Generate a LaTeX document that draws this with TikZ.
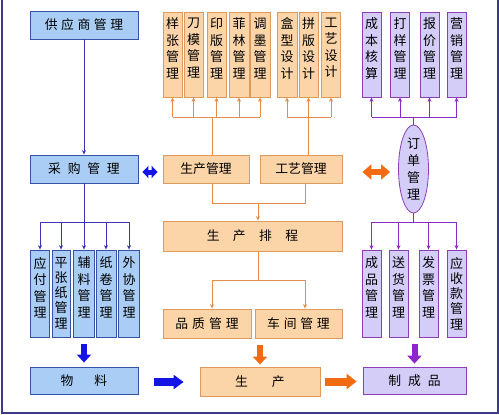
\documentclass[tikz,border=0pt]{standalone}
\usepackage{fontspec}
\setmainfont{Noto Sans CJK SC}
\usepackage{tikz}
\usetikzlibrary{arrows.meta,shapes.geometric}

\definecolor{lanfill}{HTML}{A9CDF4}
\definecolor{landraw}{HTML}{3552A8}
\definecolor{lanline}{HTML}{3B33B8}
\definecolor{lanbig}{HTML}{1414E6}
\definecolor{chengfill}{HTML}{FBD4A8}
\definecolor{chengdraw}{HTML}{DE9A5C}
\definecolor{chengline}{HTML}{E38C4C}
\definecolor{chengbig}{HTML}{F26B12}
\definecolor{zifill}{HTML}{D3CDF8}
\definecolor{zidraw}{HTML}{8A3FB8}
\definecolor{ziline}{HTML}{8A2CC2}
\definecolor{zibig}{HTML}{8E24D0}
\definecolor{kuang}{HTML}{3E3888}

% vertical text in the tall boxes
\newcommand{\shu}[2][16.5]{\parbox[c][73pt][t]{18pt}{\centering\fontsize{13}{#1}\selectfont #2}}

\begin{document}
\begin{tikzpicture}[x=1pt,y=-1pt,>={Stealth[length=4.5pt,width=4pt]},
	box/.style={draw,line width=0.8pt,inner sep=0pt,font=\fontsize{12.8}{15}\selectfont},
	lan/.style={box,draw=landraw,fill=lanfill},
	cheng/.style={box,draw=chengdraw,fill=chengfill},
	zi/.style={box,draw=zidraw,fill=zifill},
	gao/.style={minimum width=19pt,minimum height=85pt},
	gaob/.style={minimum width=19pt,minimum height=87pt},
	lanxian/.style={draw=lanline,line width=0.8pt},
	chengxian/.style={draw=chengline,line width=0.8pt},
	zixian/.style={draw=ziline,line width=0.8pt},
	dajt/.style={line width=6pt,-{Triangle[width=14pt,length=8pt]}},
	shuangjt/.style={line width=5pt,{Triangle[width=12pt,length=6pt]}-{Triangle[width=12pt,length=6pt]}}]
			\useasboundingbox (0,0) rectangle (499,415);
			% Frame
			\draw[kuang,line width=2pt] (1.5,0) -- (1.5,413) -- (497.5,413) -- (497.5,0);
			
			% Bus levels
			\coordinate (ding) at (0,117);
			\coordinate (lanzong) at (0,222);
			\coordinate (zhong) at (0,203);
			\coordinate (xia) at (0,280);
			
			% Purchasing side
			\node[lan,minimum width=108pt,minimum height=28pt] (gys) at (84,25) {供\hspace{3.6pt}应\hspace{3.6pt}商\hspace{3.6pt}管\hspace{3.6pt}理};
			\node[lan,minimum width=108pt,minimum height=28pt] (cg) at (84,169) {采\hspace{6.8pt}购\hspace{6.8pt}管\hspace{6.8pt}理};
			\node[lan,gaob] (yf) at (40,293.5) {\shu{应\\付\\管\\理}};
			\node[lan,gaob,minimum width=18pt] (pzz) at (61,293.5) {\shu[15.3]{平\\张\\纸\\管\\理}};
			\node[lan,gaob,minimum width=21pt] (fl) at (84,293.5) {\shu{辅\\料\\管\\理}};
			\node[lan,gaob,minimum width=20pt] (zj) at (106,293.5) {\shu{纸\\卷\\管\\理}};
			\node[lan,gaob,minimum width=21pt] (wx) at (129,293.5) {\shu{外\\协\\管\\理}};
			\node[lan,minimum width=108pt,minimum height=27pt] (wl) at (84,380.5) {物\hspace{21pt}料};
			
			% Production side
			\node[cheng,gao] (yz) at (172.5,54.5) {\shu{样\\张\\管\\理}};
			\node[cheng,gao] (dm) at (193.5,54.5) {\shu{刀\\模\\管\\理}};
			\node[cheng,gao] (yb) at (216.5,54.5) {\shu{印\\版\\管\\理}};
			\node[cheng,gao,minimum width=20pt] (fei) at (239,54.5) {\shu{菲\\林\\管\\理}};
			\node[cheng,gao,minimum width=20pt] (tm) at (260,54.5) {\shu{调\\墨\\管\\理}};
			\node[cheng,gao,minimum width=20pt] (hx) at (287,54.5) {\shu{盒\\型\\设\\计}};
			\node[cheng,gao] (pb) at (308.5,54.5) {\shu{拼\\版\\设\\计}};
			\node[cheng,gao] (gysj) at (331,54.5) {\shu{工\\艺\\设\\计}};
			\node[cheng,minimum width=86pt,minimum height=28pt] (sc) at (206,169) {生产管理};
			\node[cheng,minimum width=82pt,minimum height=28pt] (gygl) at (301,169) {工艺管理};
			\node[cheng,minimum width=179pt,minimum height=30pt] (pc) at (252.5,236) {生\hspace{13.4pt}产\hspace{13.4pt}排\hspace{13.4pt}程};
			\node[cheng,minimum width=88pt,minimum height=29pt] (pz) at (207,323.5) {品\hspace{4.1pt}质\hspace{4.1pt}管\hspace{4.1pt}理};
			\node[cheng,minimum width=87pt,minimum height=29pt] (cj) at (298.5,323.5) {车\hspace{3.8pt}间\hspace{3.8pt}管\hspace{3.8pt}理};
			\node[cheng,minimum width=120pt,minimum height=29pt] (scn) at (260,381.5) {生\hspace{24pt}产};
			
			% Order side
			\node[zi,gao] (cbhs) at (371.5,54.5) {\shu{成\\本\\核\\算}};
			\node[zi,gao] (dy) at (400,54.5) {\shu{打\\样\\管\\理}};
			\node[zi,gao] (bj) at (429.5,54.5) {\shu{报\\价\\管\\理}};
			\node[zi,gao] (yx) at (456.5,54.5) {\shu{营\\销\\管\\理}};
			\node[zi,ellipse,minimum width=30pt,minimum height=88pt] (dd) at (413.5,169) {\parbox{14pt}{\centering\fontsize{13}{17}\selectfont 订\\单\\管\\理}};
			\node[zi,gaob] (cp) at (371.5,293.5) {\shu{成\\品\\管\\理}};
			\node[zi,gaob] (sh) at (398.5,293.5) {\shu{送\\货\\管\\理}};
			\node[zi,gaob] (fp) at (428.5,293.5) {\shu{发\\票\\管\\理}};
			\node[zi,gaob] (ysk) at (456.5,293.5) {\shu[15.3]{应\\收\\款\\管\\理}};
			\node[zi,minimum width=103pt,minimum height=27pt] (zcp) at (414.5,380.5) {制\hspace{7pt}成\hspace{7pt}品};
			
			% Blue connectors
			\draw[lanxian,->] (gys.south) -- (cg.north);
			\draw[lanxian] (cg.south) -- (cg.south |- lanzong);
			\draw[lanxian] (yf.north |- lanzong) -- (wx.north |- lanzong);
			\draw[lanxian,->] (yf.north |- lanzong) -- (yf.north);
			\draw[lanxian,->] (pzz.north |- lanzong) -- (pzz.north);
			\draw[lanxian,->] (fl.north |- lanzong) -- (fl.north);
			\draw[lanxian,->] (zj.north |- lanzong) -- (zj.north);
			\draw[lanxian,->] (wx.north |- lanzong) -- (wx.north);
			
			% Orange connectors
			\coordinate (scj) at ([xshift=6pt]sc.north);
			\coordinate (gyj) at ([xshift=7pt]gygl.north);
			\draw[chengxian] (scj) -- (scj |- ding);
			\draw[chengxian] (gyj) -- (gyj |- ding);
			\draw[chengxian] (yz.south |- ding) -- (tm.south |- ding);
			\draw[chengxian] (hx.south |- ding) -- (gysj.south |- ding);
			\draw[chengxian,->] (yz.south |- ding) -- (yz.south);
			\draw[chengxian,->] (dm.south |- ding) -- (dm.south);
			\draw[chengxian,->] (yb.south |- ding) -- (yb.south);
			\draw[chengxian,->] (fei.south |- ding) -- (fei.south);
			\draw[chengxian,->] (tm.south |- ding) -- (tm.south);
			\draw[chengxian,->] (hx.south |- ding) -- (hx.south);
			\draw[chengxian,->] (pb.south |- ding) -- (pb.south);
			\draw[chengxian,->] (gysj.south |- ding) -- (gysj.south);
			\coordinate (scd) at ([xshift=6pt]sc.south);
			\coordinate (gyd) at ([xshift=4pt]gygl.south);
			\coordinate (pcj) at ([xshift=5.5pt]pc.north);
			\coordinate (pcd) at ([xshift=5.5pt]pc.south);
			\draw[chengxian] (scd) -- (scd |- zhong) -- (gyd |- zhong) -- (gyd);
			\draw[chengxian,->] (pcj |- zhong) -- (pcj);
			\coordinate (pzj) at ([xshift=5pt]pz.north);
			\coordinate (cjj) at ([xshift=6.5pt]cj.north);
			\draw[chengxian] (pcd) -- (pcd |- xia);
			\draw[chengxian] (pzj |- xia) -- (cjj |- xia);
			\draw[chengxian,->] (pzj |- xia) -- (pzj);
			\draw[chengxian,->] (cjj |- xia) -- (cjj);
			
			% Purple connectors
			\draw[zixian] (dd.north) -- (dd.north |- ding);
			\draw[zixian] (cbhs.south |- ding) -- (yx.south |- ding);
			\draw[zixian,->] (cbhs.south |- ding) -- (cbhs.south);
			\draw[zixian,->] (dy.south |- ding) -- (dy.south);
			\draw[zixian,->] (bj.south |- ding) -- (bj.south);
			\draw[zixian,->] (yx.south |- ding) -- (yx.south);
			\draw[zixian] (dd.south) -- (dd.south |- lanzong);
			\draw[zixian] (cp.north |- lanzong) -- (ysk.north |- lanzong);
			\draw[zixian,->] (cp.north |- lanzong) -- (cp.north);
			\draw[zixian,->] (sh.north |- lanzong) -- (sh.north);
			\draw[zixian,->] (fp.north |- lanzong) -- (fp.north);
			\draw[zixian,->] (ysk.north |- lanzong) -- (ysk.north);
			
			% Big arrows
			\draw[shuangjt,lanbig,shorten <=4pt,shorten >=5pt] ([yshift=-3pt]cg.east) -- ([yshift=-3pt]sc.west);
			\draw[shuangjt,chengbig,line width=6pt,{Triangle[width=15pt,length=9pt]}-{Triangle[width=15pt,length=9pt]},shorten <=20pt,shorten >=8pt] ([yshift=-3pt]gygl.east) -- ([yshift=-3pt]dd.west);
			\draw[dajt,lanbig,shorten <=7pt,shorten >=4pt] (wl.north |- fl.south) -- (wl.north);
			\draw[dajt,chengbig,shorten <=7pt,shorten >=2pt] (scn.north |- pz.south) -- (scn.north);
			\draw[dajt,zibig,shorten <=7pt,shorten >=3pt] (zcp.north |- cp.south) -- (zcp.north);
			\draw[dajt,lanbig,line width=8pt,-{Triangle[width=14pt,length=10pt]},shorten <=16pt,shorten >=16pt] ([yshift=-1.5pt]wl.east) -- ([yshift=-1.5pt]wl.east -| scn.west);
			\draw[dajt,chengbig,line width=8pt,-{Triangle[width=15pt,length=10pt]},shorten <=5pt,shorten >=6pt] (scn.east) -- (scn.east -| zcp.west);
		\end{tikzpicture}
\end{document}
